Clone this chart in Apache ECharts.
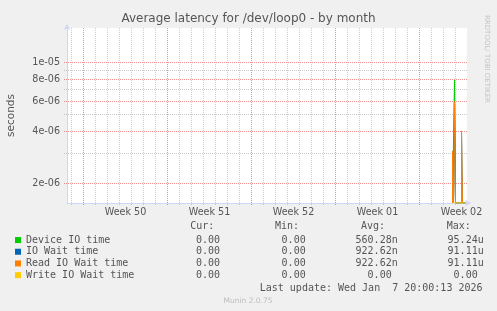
<!DOCTYPE html>
<html><head><meta charset="utf-8">
<script src="https://cdn.jsdelivr.net/npm/echarts@6/dist/echarts.min.js"></script>
<style>html,body{margin:0;padding:0;background:#f0f0f0}#c{width:497px;height:311px}</style>
</head><body><div id="c"></div>
<script>
// ---------------- data ----------------
const titleText = 'Average latency for /dev/loop0 - by month';
const yAxisName = 'seconds';
const seriesNames = ['Device IO time', 'IO Wait time', 'Read IO Wait time', 'Write IO Wait time'];
const seriesColors = ['#00cc00', '#0066b3', '#ff8000', '#ffcc00'];
// 2-hour samples (UTC), values in seconds
const sampleTimes = ['2026-01-06 18:00', '2026-01-06 20:00', '2026-01-06 22:00', '2026-01-07 00:00',
  '2026-01-07 02:00', '2026-01-07 04:00', '2026-01-07 06:00', '2026-01-07 08:00', '2026-01-07 10:00',
  '2026-01-07 12:00', '2026-01-07 14:00', '2026-01-07 16:00', '2026-01-07 18:00', '2026-01-07 20:00'];
const deviceIO    = [0, 0, 0, 7.95e-6, 0, 0, 0, 0, 0, 0, 0, 0, 0, 0];
const ioWait      = [0, 3.1e-6, 0, 5.96e-6, 0, 0, 0, 0, 0, 0, 4.04e-6, 0, 0, 0];
const readIOWait  = [0, 3.1e-6, 0, 5.96e-6, 0, 0, 0, 0, 0, 0, 4.04e-6, 0, 0, 0];
const writeIOWait = [0, 0, 0, 0, 0, 0, 0, 0, 0, 0, 0, 0, 0, 0];
const weekLabels = ['Week 50', 'Week 51', 'Week 52', 'Week 01', 'Week 02'];
const weekStarts = ['2025-12-07 00:00', '2025-12-14 00:00', '2025-12-21 00:00', '2025-12-28 00:00', '2026-01-04 00:00'];
const xStart = '2025-12-05 15:00';
const xEnd = '2026-01-07 23:00';
const yMin = 1.554e-6, yMax = 1.585e-5;
const yTickLabels = [2e-6, 4e-6, 6e-6, 8e-6, 1e-5];
const yMinorGrid = [3e-6, 5e-6, 7e-6, 9e-6];
const legendHeaders = ['Cur:', 'Min:', 'Avg:', 'Max:'];
const curVals = ['0.00', '0.00', '0.00', '0.00'];
const minVals = ['0.00', '0.00', '0.00', '0.00'];
const avgVals = ['560.28n', '922.62n', '922.62n', '0.00'];
const maxVals = ['95.24u', '91.11u', '91.11u', '0.00'];
const lastUpdate = 'Last update: Wed Jan  7 20:00:13 2026';
const footer = 'Munin 2.0.75';
const sideText = 'RRDTOOL/ TOBI OETIKER';

// ---------------- helpers ----------------
const ORIGIN = Date.UTC(2025, 10, 30);
const toDay = s => (Date.parse(s.replace(' ', 'T') + ':00Z') - ORIGIN) / 864e5;
const xMin = toDay(xStart), xMax = toDay(xEnd);
const sampleDays = sampleTimes.map(toDay);
const weekStartDays = weekStarts.map(toDay);
const weekMids = weekStartDays.map(d => d + 3.5);
const fmtExp = v => v.toExponential(0).replace(/e([+-])(\d)$/, 'e$10$2');
const clampLog = v => (v > 0 ? v : yMin); // rrdtool draws values below range at the bottom edge
const crisp = p => Math.round(p - 0.5) + 0.5;

const GRAY = 'rgba(143,143,143,0.45)';
const RED = 'rgba(233,96,96,0.7)';
const FONT = 'DejaVu Sans';
const MONO = 'DejaVu Sans Mono';
const TXT = '#555';

// grid positions: [x, y, isMajor]
const vGrid = [];
for (let d = Math.ceil(xMin); d <= Math.floor(xMax); d++) {
  const isWeek = weekStartDays.some(w => Math.abs(w - d) < 1e-6);
  vGrid.push([d, yMin, isWeek ? 1 : 0]);
}
const hGrid = yMinorGrid.map(v => [xMin, v, 0]).concat(yTickLabels.map(v => [xMin, v, 1]));

const series = [{
  name: '__vgrid', type: 'custom', z: 1, silent: true, clip: false, animation: false,
  data: vGrid, encode: { x: 0, y: 1 },
  renderItem: (params, api) => {
    const d = api.value(0), major = api.value(2);
    const top = api.coord([d, yMax]), bot = api.coord([d, yMin]);
    const x = crisp(top[0]);
    return { type: 'line', silent: true,
      shape: { x1: x, y1: Math.round(top[1]), x2: x, y2: Math.round(bot[1]) + 2 },
      style: { stroke: major ? RED : GRAY, lineDash: [1, 1], lineWidth: 1 } };
  }
}, {
  name: '__hgrid', type: 'custom', z: 1, silent: true, clip: false, animation: false,
  data: hGrid, encode: { x: 0, y: 1 },
  renderItem: (params, api) => {
    const v = api.value(1), major = api.value(2);
    const l = api.coord([xMin, v]), r = api.coord([xMax, v]);
    const y = crisp(l[1]);
    const children = [{ type: 'line', silent: true,
      shape: { x1: Math.round(l[0]) - 3, y1: y, x2: Math.round(r[0]), y2: y },
      style: { stroke: major ? RED : GRAY, lineDash: [1, 1], lineWidth: 1 } }];
    if (major) children.push({ type: 'text', silent: true, x: Math.round(l[0]) - 7, y: l[1],
      style: { text: fmtExp(v), fill: TXT, font: '9.6px "' + FONT + '"',
        textAlign: 'right', textVerticalAlign: 'middle', align: 'right', verticalAlign: 'middle' } });
    return { type: 'group', children };
  }
}];
[deviceIO, ioWait, readIOWait, writeIOWait].forEach((arr, i) => series.push({
  name: seriesNames[i], type: 'line', step: 'start', symbol: 'none', showSymbol: false,
  z: 3, animation: false, clip: true,
  lineStyle: { width: 1, color: seriesColors[i] }, itemStyle: { color: seriesColors[i] },
  data: sampleDays.map((d, j) => [d, clampLog(arr[j])])
}));

// legend columns (text)
const graphics = [];
const colHeaderLeft = [190.3, 275, 361, 446.7];
const colFieldEnd = [226, 311.7, 397.7, 483.7];
const rowY = [240, 251.7, 263.3, 275];
const txt = (text, x, y, align, font, fill) => ({
  type: 'text', x, y, silent: true,
  style: { text, font, fill, align, verticalAlign: 'middle', textAlign: align, textVerticalAlign: 'middle' }
});
legendHeaders.forEach((h, c) => graphics.push(txt(h, colHeaderLeft[c], 226.7, 'left', '10px "' + MONO + '"', TXT)));
[curVals, minVals, avgVals, maxVals].forEach((col, c) => col.forEach((s, r) => {
  const str = /[a-zA-Z]$/.test(s) ? s : s + ' ';
  graphics.push(txt(str, colFieldEnd[c], rowY[r], 'right', '10px "' + MONO + '"', TXT));
}));
graphics.push(txt(lastUpdate, 482.5, 288.3, 'right', '10px "' + MONO + '"', TXT));
graphics.push(txt(footer, 248, 300.7, 'center', '7.5px "' + FONT + '"', '#bdbdbd'));
graphics.push(Object.assign(txt(sideText, 487, 15, 'left', '7px "' + FONT + '"', '#c4c4c4'), { rotation: -Math.PI / 2 }));

const axisLineStyle = { show: true, lineStyle: { color: '#cfd6f8', width: 1 }, symbol: ['none', 'arrow'], symbolSize: [5, 6], symbolOffset: [0, 4] };
const chart = echarts.init(document.getElementById('c'), null, { renderer: 'canvas' });
chart.setOption({
  backgroundColor: '#f0f0f0',
  animation: false,
  title: { text: titleText, left: 'center', top: 13, padding: 0,
    textStyle: { fontSize: 12, fontWeight: 'normal', color: TXT, fontFamily: FONT } },
  grid: { left: 67, right: 30, top: 28, bottom: 108, containLabel: false, outerBoundsMode: 'none',
    show: true, backgroundColor: '#ffffff', borderWidth: 0 },
  legend: { data: seriesNames, orient: 'vertical', left: 15, top: 234.2, padding: 0,
    itemWidth: 6, itemHeight: 6, itemGap: 0, icon: 'rect', selectedMode: false,
    textStyle: { fontFamily: MONO, fontSize: 10, color: TXT, lineHeight: 11.7 } },
  xAxis: {
    type: 'value', min: xMin, max: xMax,
    axisLine: axisLineStyle,
    axisTick: { show: false },
    splitLine: { show: false },
    axisLabel: { customValues: weekMids, margin: 4, color: TXT, fontSize: 9.6, fontFamily: FONT,
      formatter: v => { const i = weekMids.findIndex(m => Math.abs(m - v) < 1e-3); return i >= 0 ? weekLabels[i] : ''; } }
  },
  yAxis: {
    type: 'log', logBase: 10, min: yMin, max: yMax,
    name: yAxisName, nameLocation: 'middle', nameGap: 50, nameRotate: 90,
    nameTextStyle: { color: TXT, fontSize: 10.5, fontFamily: FONT },
    axisLine: axisLineStyle,
    axisTick: { show: false }, axisLabel: { show: false }, splitLine: { show: false }
  },
  graphic: graphics,
  series
});
</script></body></html>
